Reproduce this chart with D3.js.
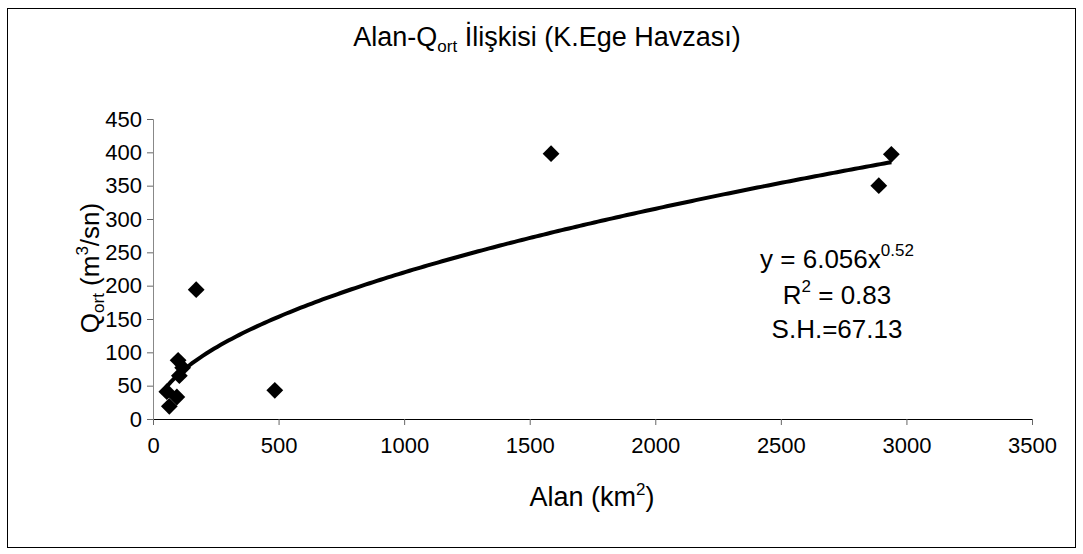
<!DOCTYPE html>
<html>
<head>
<meta charset="utf-8">
<script src="https://cdn.jsdelivr.net/npm/d3@7"></script>
<style>
  body { margin: 0; background: #fff; }
  svg { display: block; font-family: "Liberation Sans", Arial, sans-serif; }
</style>
</head>
<body>
<svg width="1083" height="554"></svg>
<script>
// istasyon verileri: alan (km2) ve ortalama debi (m3/sn)
const alan = [55, 65, 95, 100, 105, 118, 172, 485, 1585, 2890, 2940];
const qort = [41, 19, 33, 88, 65, 77, 194, 43, 398, 350, 397];

// trend çizgisi katsayıları (y = a * x^b)
const trendA = 6.056;
const trendB = 0.52;

const xTicks = [0, 500, 1000, 1500, 2000, 2500, 3000, 3500];
const yTicks = [0, 50, 100, 150, 200, 250, 300, 350, 400, 450];

const svg = d3.select("svg");

const area = { left: 153, right: 1032, top: 119, bottom: 419 };
const fontFam = "Liberation Sans, Arial, sans-serif";

// dış çerçeve
svg.append("rect")
    .attr("x", 7.5).attr("y", 8.5)
    .attr("width", 1068).attr("height", 539)
    .attr("fill", "none").attr("stroke", "#000");

const scX = d3.scaleLinear().domain([0, 3500]).range([area.left, area.right]);
const scY = d3.scaleLinear().domain([0, 450]).range([area.bottom, area.top]);

// eksenler
const axisX = svg.append("g")
    .attr("transform", `translate(0, ${area.bottom})`)
    .call(d3.axisBottom(scX).tickValues(xTicks).tickFormat(d3.format("d"))
        .tickSize(6).tickPadding(12));
axisX.attr("font-size", 22).attr("font-family", fontFam);
axisX.select(".domain").attr("stroke", "#000");
axisX.selectAll(".tick line").attr("stroke", "#666");
axisX.selectAll("text").attr("fill", "#000");

const axisY = svg.append("g")
    .attr("transform", `translate(${area.left}, 0)`)
    .call(d3.axisLeft(scY).tickValues(yTicks).tickSize(6).tickPadding(5));
axisY.attr("font-size", 22).attr("font-family", fontFam);
axisY.select(".domain").attr("stroke", "#888");
axisY.selectAll(".tick line").attr("stroke", "#666");
axisY.selectAll("text").attr("fill", "#000");

// trend çizgisi
const [xMin, xMax] = d3.extent(alan);
const trendPts = d3.range(0, 201).map(i => {
    const x = xMin + (xMax - xMin) * i / 200;
    return [x, trendA * Math.pow(x, trendB)];
});
svg.append("path")
    .datum(trendPts)
    .attr("fill", "none")
    .attr("stroke", "#000")
    .attr("stroke-width", 4)
    .attr("d", d3.line().x(d => scX(d[0])).y(d => scY(d[1])));

// noktalar (elmas)
const pts = alan.map((a, i) => ({ x: a, y: qort[i] }));
svg.selectAll("path.pt")
    .data(pts)
    .enter()
    .append("path")
    .attr("class", "pt")
    .attr("d", d3.symbol().type(d3.symbolDiamond2).size(180))
    .attr("transform", d => `translate(${scX(d.x)}, ${scY(d.y)})`)
    .attr("fill", "#000");

// başlık
const title = svg.append("text")
    .attr("x", 547).attr("y", 46)
    .attr("text-anchor", "middle")
    .attr("font-size", 27);
title.append("tspan").text("Alan-Q");
title.append("tspan").attr("font-size", 17).attr("dy", 6).text("ort");
title.append("tspan").attr("dy", -6).text(" İlişkisi (K.Ege Havzası)");

// x ekseni başlığı
const xt = svg.append("text")
    .attr("x", 592).attr("y", 506)
    .attr("text-anchor", "middle")
    .attr("font-size", 27);
xt.append("tspan").text("Alan (km");
xt.append("tspan").attr("font-size", 17).attr("dy", -11).text("2");
xt.append("tspan").attr("dy", 11).text(")");

// y ekseni başlığı
const yt = svg.append("text")
    .attr("transform", "translate(99, 268) rotate(-90)")
    .attr("text-anchor", "middle")
    .attr("font-size", 26);
yt.append("tspan").text("Q");
yt.append("tspan").attr("font-size", 17).attr("dy", 5).text("ort");
yt.append("tspan").attr("dy", -5).text(" (m");
yt.append("tspan").attr("font-size", 17).attr("dy", -11).text("3");
yt.append("tspan").attr("dy", 11).text("/sn)");

// denklem kutusu
const eq1 = svg.append("text")
    .attr("x", 837).attr("y", 268)
    .attr("text-anchor", "middle")
    .attr("font-size", 26);
eq1.append("tspan").text("y = 6.056x");
eq1.append("tspan").attr("font-size", 17).attr("dy", -12).text("0.52");

const eq2 = svg.append("text")
    .attr("x", 837).attr("y", 304)
    .attr("text-anchor", "middle")
    .attr("font-size", 26);
eq2.append("tspan").text("R");
eq2.append("tspan").attr("font-size", 17).attr("dy", -12).text("2");
eq2.append("tspan").attr("dy", 12).text(" = 0.83");

svg.append("text")
    .attr("x", 837).attr("y", 338)
    .attr("text-anchor", "middle")
    .attr("font-size", 26)
    .text("S.H.=67.13");
</script>
</body>
</html>
